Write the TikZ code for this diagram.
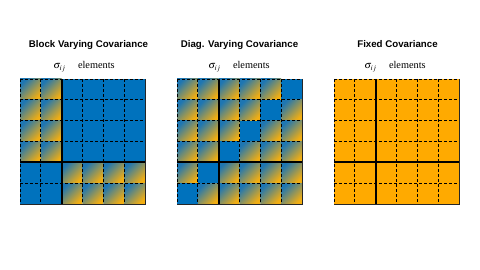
\documentclass[tikz,border=0pt]{standalone}
\usepackage{mathptmx}
\usepackage{fontspec}
\setmainfont{Liberation Serif}
\setsansfont{Liberation Sans}
\definecolor{covblue}{RGB}{0,114,189}
\definecolor{covorange}{RGB}{255,170,0}
\definecolor{covteal}{RGB}{30,118,178}
\definecolor{covgold}{RGB}{242,174,18}
\newcommand{\cw}{20.8333}
% panel top at y=191, bottom at y=66, width 125
\newcommand{\gridlines}[1]{%
  \foreach \i in {1,...,5} {
    \draw[gridline] ({#1+\i*\cw},191) -- ++(0,-125);
    \draw[gridline] (#1,{191-\i*\cw}) -- ++(125,0);
  }
  \draw[gridline] (#1,191) -- ++(125,0);
  \draw[gridline] (#1,191) -- ++(0,-125);
  \draw[blockline] ({#1+2*\cw},191) -- ++(0,-125);
  \draw[blockline] (#1,{191-4*\cw}) -- ++(125,0);
  \draw[edgeline] ({#1+125},191) -- ++(0,-125) -- ++(-125,0);}

\begin{document}
\begin{tikzpicture}[x=1pt, y=1pt,
    gradcell/.style={top color=covteal, bottom color=covgold, shading angle=45},
    bluecell/.style={fill=covblue},
    fixcell/.style={fill=covorange},
    gridline/.style={densely dashed, line width=0.7pt},
    blockline/.style={line width=1.7pt},
    edgeline/.style={line width=0.7pt, black!85},
    title/.style={anchor=base, font=\sffamily\bfseries\fontsize{9.7}{11}\selectfont},
    sigma/.style={anchor=base, font=\fontsize{10.3}{12}\selectfont}]
  \useasboundingbox (0,0) rectangle (480,270);

  % block varying
  \foreach \c in {0,...,5} {
    \foreach \r in {0,...,5} {
      \ifnum\c<2
        \ifnum\r<4 \tikzset{thiscell/.style=gradcell}\else\tikzset{thiscell/.style=bluecell}\fi
      \else
        \ifnum\r<4 \tikzset{thiscell/.style=bluecell}\else\tikzset{thiscell/.style=gradcell}\fi
      \fi
      \path[thiscell] ({20+\c*\cw},{191-(\r+1)*\cw}) rectangle ++(\cw,\cw);
    }
  }
  \gridlines{20}
  \node[title] (t1) at (88.5,222.5) {Block Varying Covariance};
  \node[sigma] (s1) at (84,201.3) {$\sigma_{ij}$\hspace{1.2em}elements};

  % diagonal varying
  \foreach \c in {0,...,5} {
    \foreach \r in {0,...,5} {
      \pgfmathtruncatemacro\cr{\c+\r}
      \ifnum\cr=5 \tikzset{thiscell/.style=bluecell}\else\tikzset{thiscell/.style=gradcell}\fi
      \path[thiscell] ({177+\c*\cw},{191-(\r+1)*\cw}) rectangle ++(\cw,\cw);
    }
  }
  \gridlines{177}
  \node[title] (t2) at (239.5,222.5) {Diag. Varying Covariance};
  \node[sigma] (s2) at (239,201.3) {$\sigma_{ij}$\hspace{1.2em}elements};

  % fixed
  \path[fixcell] (334,66) rectangle ++(125,125);
  \gridlines{334}
  \node[title] (t3) at (397.5,222.5) {Fixed Covariance};
  \node[sigma] (s3) at (395,201.3) {$\sigma_{ij}$\hspace{1.2em}elements};
\end{tikzpicture}
\end{document}
